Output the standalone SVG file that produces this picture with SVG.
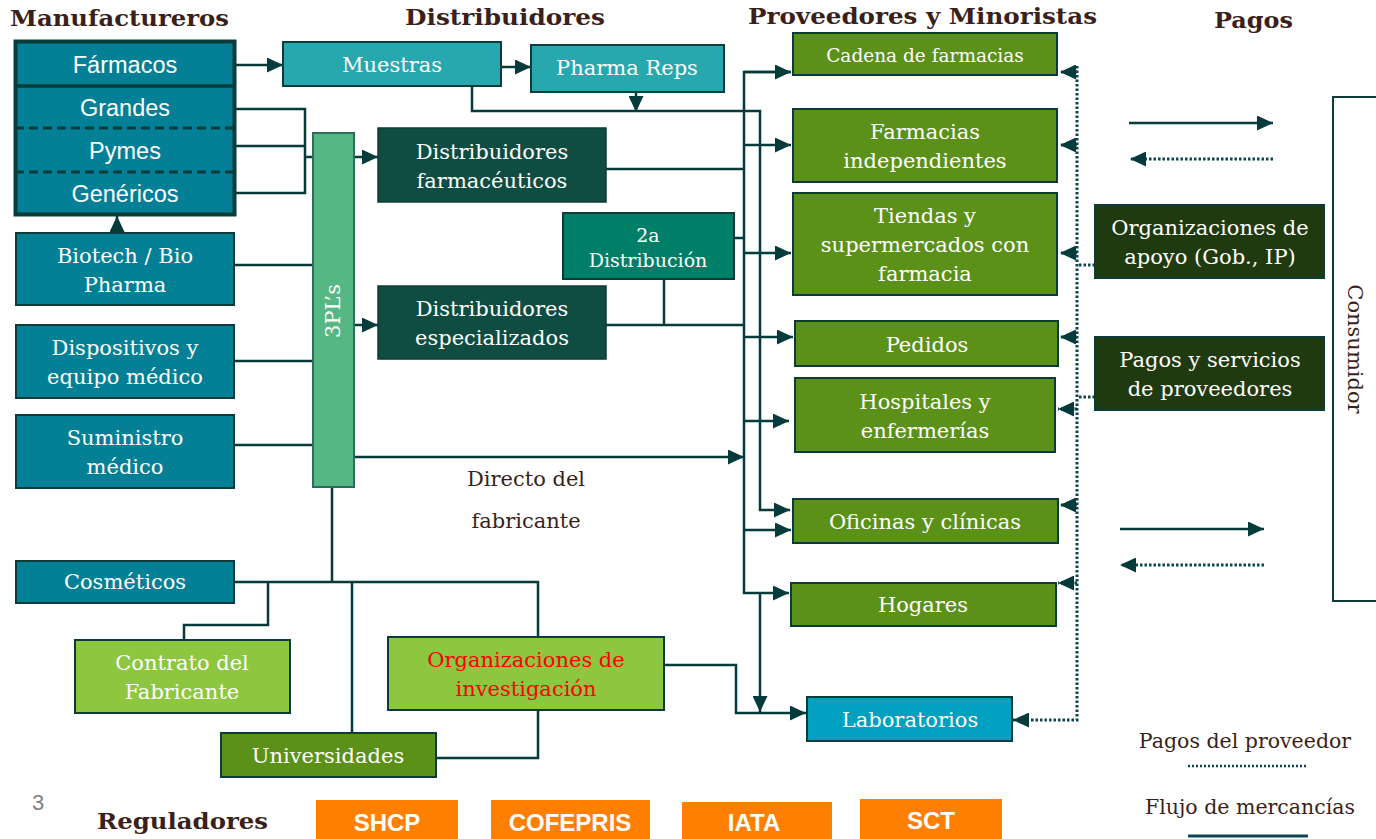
<svg xmlns="http://www.w3.org/2000/svg" width="1376" height="839" viewBox="0 0 1376 839">
<defs>
<marker id="ah" markerUnits="userSpaceOnUse" markerWidth="16" markerHeight="15" refX="16" refY="7.5" orient="auto">
<path d="M0,0 L16,7.5 L0,15 z" fill="#063b3b"/>
</marker>
<style>
.bx{stroke:#0c3b3a;stroke-width:2}
.t{font-family:"DejaVu Serif","Liberation Serif",serif;font-size:21px;fill:#ffffff;text-anchor:middle;dominant-baseline:central}
.s{font-family:"Liberation Sans",Arial,sans-serif;font-size:23.5px;fill:#ffffff;text-anchor:middle;dominant-baseline:central}
.o{font-family:"Liberation Sans",Arial,sans-serif;font-size:24px;font-weight:bold;fill:#ffffff;text-anchor:middle;dominant-baseline:central}
.h{font-family:"DejaVu Serif","Liberation Serif",serif;font-size:23px;font-weight:bold;fill:#3b1f1a}
.l{font-family:"DejaVu Serif","Liberation Serif",serif;font-size:20.5px;fill:#3b1f1a;text-anchor:middle;dominant-baseline:central}
.c{fill:none;stroke:#063b3b;stroke-width:2.5}
.d{fill:none;stroke:#0b4550;stroke-width:3;stroke-dasharray:2.5 2}
.teal{fill:#037f96}
.grn{fill:#5b9119}
.lgrn{fill:#8dc63f}
.dk{fill:#1f3a0e}
.or{fill:#ff7f00}
</style>
</defs>
<rect width="1376" height="839" fill="#ffffff"/>

<!-- Headers -->
<g id="headers">
<text class="h" x="10" y="26" textLength="219" lengthAdjust="spacingAndGlyphs">Manufactureros</text>
<text class="h" x="405" y="25" textLength="200" lengthAdjust="spacingAndGlyphs">Distribuidores</text>
<text class="h" x="748" y="24" textLength="349" lengthAdjust="spacingAndGlyphs">Proveedores y Minoristas</text>
<text class="h" x="1214" y="28" textLength="79" lengthAdjust="spacingAndGlyphs">Pagos</text>
<text class="h" x="97" y="829" textLength="171" lengthAdjust="spacingAndGlyphs">Reguladores</text>
<text x="32" y="810" font-family="Liberation Sans, Arial, sans-serif" font-size="22" fill="#7f7f7f">3</text>
</g>

<!-- Connectors -->
<g id="connectors">
<path class="c" d="M236,65 H283" marker-end="url(#ah)"/>
<path class="c" d="M501,67 H531" marker-end="url(#ah)"/>
<path class="c" d="M636,92 V112" marker-end="url(#ah)"/>
<path class="c" d="M472,86 V111 H760 V510 H790" marker-end="url(#ah)"/>
<path class="c" d="M236,109 H305 V193 H236 M236,146 H305 M305,157 H313"/>
<path class="c" d="M354,157 H378" marker-end="url(#ah)"/>
<path class="c" d="M354,325 H378" marker-end="url(#ah)"/>
<path class="c" d="M234,265 H313 M234,361 H313 M234,445 H313"/>
<path class="c" d="M354,457 H744" marker-end="url(#ah)"/>
<path class="c" d="M606,169 H744 M606,325 H744 M664,279 V325 M734,238 H744"/>
<path class="c" d="M791,72 H744 V593 H789" marker-end="url(#ah)"/>
<path class="c" d="M744,72 H791" marker-end="url(#ah)"/>
<path class="c" d="M744,145 H791" marker-end="url(#ah)"/>
<path class="c" d="M744,253 H791" marker-end="url(#ah)"/>
<path class="c" d="M744,337 H793" marker-end="url(#ah)"/>
<path class="c" d="M744,421 H789" marker-end="url(#ah)"/>
<path class="c" d="M744,530 H791" marker-end="url(#ah)"/>
<path class="c" d="M760,593 V712" marker-end="url(#ah)"/>
<path class="c" d="M664,665 H736 V713 H806" marker-end="url(#ah)"/>
<path class="c" d="M234,582 H538 V637 M332,487 V582 M268,582 V625 H184 V640 M352,582 V733 M538,710 V758 H436"/>
<path class="c" d="M117,233 V216" marker-end="url(#ah)"/>

<path class="d" d="M1077,66 V720 H1013" marker-end="url(#ah)"/>
<path class="d" d="M1077,72 H1060" marker-end="url(#ah)"/>
<path class="d" d="M1077,145 H1060" marker-end="url(#ah)"/>
<path class="d" d="M1077,253 H1060" marker-end="url(#ah)"/>
<path class="d" d="M1077,337 H1060" marker-end="url(#ah)"/>
<path class="d" d="M1077,409 H1058" marker-end="url(#ah)"/>
<path class="d" d="M1077,505 H1060" marker-end="url(#ah)"/>
<path class="d" d="M1077,583 H1058" marker-end="url(#ah)"/>
<path class="d" d="M1095,265 H1077 M1095,397 H1077"/>

<path class="c" d="M1129,123 H1273" marker-end="url(#ah)"/>
<path class="d" d="M1273,159 H1130" marker-end="url(#ah)"/>
<path class="c" d="M1120,529 H1264" marker-end="url(#ah)"/>
<path class="d" d="M1264,565 H1120" marker-end="url(#ah)"/>
</g>

<!-- Manufacturers -->
<g id="manufactureros">
<rect x="15.5" y="41.5" width="219" height="173" class="teal" stroke="#0a3b3b" stroke-width="4"/>
<line x1="15" y1="86" x2="235" y2="86" stroke="#0a3b3b" stroke-width="3.5"/>
<line x1="15" y1="128" x2="235" y2="128" stroke="#0a3b3b" stroke-width="3" stroke-dasharray="9 5"/>
<line x1="15" y1="172" x2="235" y2="172" stroke="#0a3b3b" stroke-width="3" stroke-dasharray="9 5"/>
<text class="s" x="125" y="65">Fármacos</text>
<text class="s" x="125" y="108">Grandes</text>
<text class="s" x="125" y="151">Pymes</text>
<text class="s" x="125" y="194">Genéricos</text>
</g>
<g id="biotech">
<rect x="16" y="233" width="218" height="72" class="teal bx"/>
<text class="t" x="125" y="256">Biotech / Bio</text>
<text class="t" x="125" y="285">Pharma</text>
</g>
<g id="dispositivos">
<rect x="16" y="325" width="218" height="73" class="teal bx"/>
<text class="t" x="125" y="348">Dispositivos y</text>
<text class="t" x="125" y="377">equipo médico</text>
</g>
<g id="suministro">
<rect x="16" y="415" width="218" height="73" class="teal bx"/>
<text class="t" x="125" y="438">Suministro</text>
<text class="t" x="125" y="467">médico</text>
</g>
<g id="cosmeticos">
<rect x="16" y="561" width="218" height="42" class="teal bx"/>
<text class="t" x="125" y="582">Cosméticos</text>
</g>
<g id="contrato">
<rect x="75" y="640" width="215" height="73" class="lgrn bx"/>
<text class="t" x="182" y="663">Contrato del</text>
<text class="t" x="182" y="692">Fabricante</text>
</g>
<g id="organizaciones-investigacion">
<rect x="388" y="637" width="276" height="73" class="lgrn bx"/>
<text class="t" x="526" y="660" style="fill:#ff0000">Organizaciones de</text>
<text class="t" x="526" y="689" style="fill:#ff0000">investigación</text>
</g>
<g id="universidades">
<rect x="221" y="733" width="215" height="44" class="grn bx"/>
<text class="t" x="328" y="756">Universidades</text>
</g>
<g id="tpl">
<rect x="313" y="133" width="41" height="354" fill="#55b784" stroke="#2d6b5a" stroke-width="2"/>
<text class="t" x="333" y="311" transform="rotate(-90 333 311)">3PL’s</text>
</g>

<!-- Distributors -->
<g id="muestras">
<rect x="283" y="42" width="218" height="44" fill="#26a8ae" class="bx"/>
<text class="t" x="392" y="65">Muestras</text>
</g>
<g id="pharma-reps">
<rect x="531" y="45" width="193" height="47" fill="#26a8ae" class="bx"/>
<text class="t" x="627" y="68">Pharma Reps</text>
</g>
<g id="dist-farmaceuticos">
<rect x="378" y="128" width="228" height="74" fill="#0f4d42" stroke="#0c3b3a" stroke-width="1.5"/>
<text class="t" x="492" y="152">Distribuidores</text>
<text class="t" x="492" y="181">farmacéuticos</text>
</g>
<g id="segunda-distribucion">
<rect x="563" y="213" width="171" height="66" fill="#007f68" class="bx"/>
<text class="t" x="648" y="235" style="font-size:19px">2a</text>
<text class="t" x="648" y="260" style="font-size:19px">Distribución</text>
</g>
<g id="dist-especializados">
<rect x="378" y="286" width="228" height="73" fill="#0f4d42" stroke="#0c3b3a" stroke-width="1.5"/>
<text class="t" x="492" y="309">Distribuidores</text>
<text class="t" x="492" y="338">especializados</text>
</g>
<g id="directo-label">
<text class="l" x="526" y="479" style="font-size:21px">Directo del</text>
<text class="l" x="526" y="521" style="font-size:21px">fabricante</text>
</g>

<!-- Providers -->
<g id="cadena">
<rect x="793" y="33" width="264" height="42" class="grn bx"/>
<text class="t" x="925" y="55" style="font-size:18.5px">Cadena de farmacias</text>
</g>
<g id="farmacias-ind">
<rect x="793" y="109" width="264" height="73" class="grn bx"/>
<text class="t" x="925" y="132">Farmacias</text>
<text class="t" x="925" y="161">independientes</text>
</g>
<g id="tiendas">
<rect x="793" y="193" width="264" height="102" class="grn bx"/>
<text class="t" x="925" y="216">Tiendas y</text>
<text class="t" x="925" y="245">supermercados con</text>
<text class="t" x="925" y="274">farmacia</text>
</g>
<g id="pedidos">
<rect x="795" y="321" width="263" height="45" class="grn bx"/>
<text class="t" x="927" y="345">Pedidos</text>
</g>
<g id="hospitales">
<rect x="795" y="378" width="260" height="74" class="grn bx"/>
<text class="t" x="925" y="402">Hospitales y</text>
<text class="t" x="925" y="431">enfermerías</text>
</g>
<g id="oficinas">
<rect x="793" y="499" width="265" height="44" class="grn bx"/>
<text class="t" x="925" y="522">Oficinas y clínicas</text>
</g>
<g id="hogares">
<rect x="791" y="583" width="265" height="43" class="grn bx"/>
<text class="t" x="923" y="605">Hogares</text>
</g>
<g id="laboratorios">
<rect x="807" y="697" width="205" height="44" fill="#00a0c0" class="bx"/>
<text class="t" x="910" y="720">Laboratorios</text>
</g>

<!-- Payments -->
<g id="org-apoyo">
<rect x="1095" y="205" width="229" height="73" class="dk bx"/>
<text class="t" x="1210" y="228">Organizaciones de</text>
<text class="t" x="1210" y="257">apoyo (Gob., IP)</text>
</g>
<g id="pagos-servicios">
<rect x="1095" y="337" width="229" height="73" class="dk bx"/>
<text class="t" x="1210" y="360">Pagos y servicios</text>
<text class="t" x="1210" y="389">de proveedores</text>
</g>
<g id="consumidor">
<rect x="1333" y="97" width="45" height="504" fill="#ffffff" stroke="#0c3b3a" stroke-width="2"/>
<text class="l" x="1355" y="349" transform="rotate(90 1355 349)" style="font-size:21px">Consumidor</text>
</g>

<!-- Legend -->
<g id="legend">
<text class="l" x="1245" y="741">Pagos del proveedor</text>
<line x1="1188" y1="766" x2="1308" y2="766" stroke="#0b4550" stroke-width="2.5" stroke-dasharray="2 2"/>
<text class="l" x="1250" y="807">Flujo de mercancías</text>
<line x1="1188" y1="836" x2="1308" y2="836" stroke="#0b4550" stroke-width="3"/>
</g>

<!-- Regulators -->
<g id="shcp"><rect x="316" y="800" width="142" height="39" class="or"/><text class="o" x="387" y="822">SHCP</text></g>
<g id="cofepris"><rect x="491" y="800" width="159" height="39" class="or"/><text class="o" x="570" y="822">COFEPRIS</text></g>
<g id="iata"><rect x="682" y="802" width="150" height="37" class="or"/><text class="o" x="754" y="822">IATA</text></g>
<g id="sct"><rect x="860" y="799" width="142" height="40" class="or"/><text class="o" x="931" y="820">SCT</text></g>
</svg>
